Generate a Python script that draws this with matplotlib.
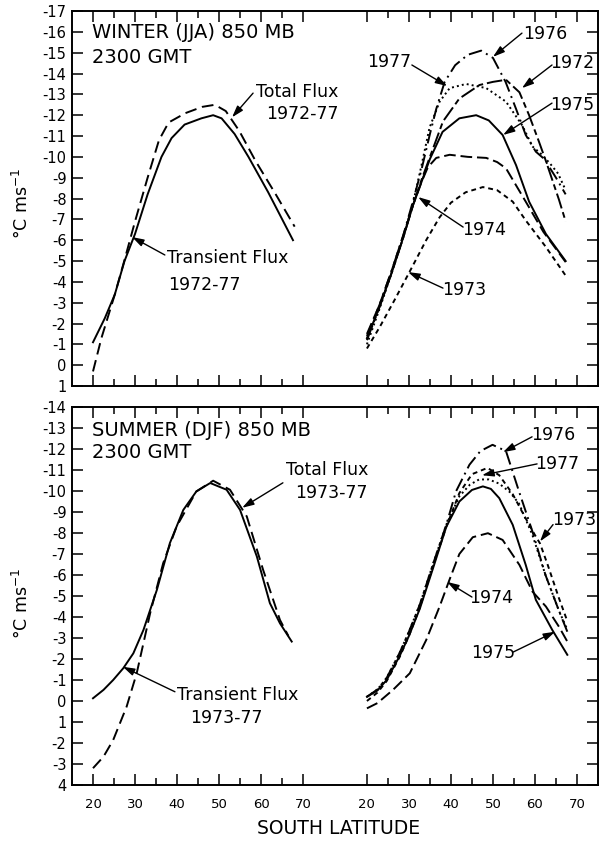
import matplotlib
matplotlib.use("Agg")
import matplotlib.pyplot as plt
import numpy as np

plt.rcParams['font.family'] = ['DejaVu Sans']

# ---- winter (JJA), left group: 1972-77 means
w_transient_lat = [20, 22.8, 25.2, 27.5, 30, 33, 36.3, 38.7, 41.8, 45.8, 48.6, 50.6, 53.7, 57, 61.7, 67.6]
w_transient = [-1.1, -2.25, -3.4, -5.0, -6.3, -8.2, -10.0, -10.9, -11.55, -11.85, -12.0, -11.85, -11.1, -10.0, -8.3, -6.0]
w_total_lat = [20, 22, 25.2, 27.5, 30, 33, 35.7, 38, 42, 46, 49, 51.6, 54.8, 58.7, 63.5, 68]
w_total = [0.3, -1.3, -3.4, -5.05, -6.9, -9.0, -10.8, -11.65, -12.1, -12.4, -12.5, -12.2, -11.25, -9.8, -8.2, -6.65]

# ---- winter (JJA), right group: single years
w1976_lat = [20, 23, 26, 28.6, 31, 33, 35, 36.5, 38.5, 41, 44, 47.2, 50, 53, 55.5, 57.8, 60.2, 62.2, 65, 67.3]
w1976 = [-1.4, -2.9, -4.6, -6.2, -7.9, -9.4, -11.1, -12.3, -13.6, -14.4, -14.9, -15.1, -14.75, -13.6, -12.3, -11.05, -10.25, -9.9, -9.0, -8.2]
w1977_lat = [20, 23, 26, 28.6, 31, 33, 34.9, 37.3, 39.7, 43.6, 48.4, 53.1, 57, 59.4, 61.4, 63.5, 65.5, 67.3]
w1977 = [-1.0, -2.7, -4.5, -6.1, -7.8, -9.6, -11.4, -12.65, -13.3, -13.5, -13.3, -12.65, -11.5, -10.5, -10.15, -9.7, -9.2, -8.4]
w1972_lat = [20, 23, 26, 28.6, 31, 33, 35, 38.1, 42, 46.8, 50, 53.1, 56.3, 58.6, 61, 62.6, 65.7, 67.3]
w1972 = [-1.2, -2.8, -4.5, -6.1, -7.7, -8.9, -10.0, -11.7, -12.8, -13.45, -13.6, -13.7, -13.1, -12.0, -10.7, -9.8, -7.95, -6.9]
w1975_lat = [20, 23, 26, 28.6, 31, 33, 35, 38, 42, 46, 49, 52.3, 55.5, 58.6, 62.6, 67.3]
w1975 = [-1.3, -2.8, -4.5, -6.1, -7.7, -8.8, -9.9, -11.2, -11.85, -12.0, -11.75, -11.05, -9.6, -7.85, -6.3, -5.0]
w1974_lat = [20, 23, 26, 28.6, 31, 33, 34.5, 36.5, 39.7, 44, 48.4, 51, 53.1, 57.8, 62, 67.3]
w1974 = [-1.5, -2.9, -4.6, -6.2, -7.7, -8.8, -9.5, -9.95, -10.1, -10.0, -9.95, -9.75, -9.45, -7.85, -6.4, -4.95]
w1973_lat = [20, 23.1, 26.5, 30.2, 34.1, 37.3, 40, 43.5, 47.6, 51, 54.7, 57.8, 62.5, 67.3]
w1973 = [-0.8, -1.85, -3.1, -4.5, -6.0, -7.1, -7.8, -8.3, -8.55, -8.4, -7.85, -6.95, -5.7, -4.3]

# ---- summer (DJF), left group: 1973-77 means
s_transient_lat = [20, 22.5, 24.8, 27.2, 29.6, 32, 35.2, 38.3, 41.5, 44.6, 47.9, 51.8, 55, 59, 62.1, 64.5, 67.3]
s_transient = [-0.13, -0.53, -1.0, -1.56, -2.27, -3.38, -5.29, -7.52, -9.1, -9.98, -10.38, -10.06, -9.1, -6.88, -4.66, -3.7, -2.83]
s_total_lat = [20, 22.5, 24.8, 28, 30.4, 33.6, 36.7, 39.9, 44.6, 48.6, 52.6, 56.6, 60.5, 64.5, 66.5]
s_total = [3.2, 2.65, 1.86, 0.27, -1.32, -4.18, -6.56, -8.31, -9.98, -10.49, -10.06, -8.79, -6.24, -3.86, -3.1]

# ---- summer (DJF), right group: single years
s1976_lat = [20, 22.5, 24.7, 27.8, 30, 32.6, 35.7, 38.9, 41.2, 44.4, 47, 49.9, 53.1, 56.2, 59.4, 62.5, 65.7, 67.7]
s1976 = [-0.2, -0.55, -1.1, -2.3, -3.3, -4.6, -6.5, -8.4, -9.98, -11.25, -11.9, -12.2, -11.9, -9.98, -8.07, -6.0, -4.3, -3.3]
s1977_lat = [20, 22.5, 24.7, 27.8, 30, 32.6, 35.7, 38.9, 42, 44.5, 46.7, 49, 51.5, 54, 56.2, 59.4, 62.5, 65.7, 67.7]
s1977 = [-0.2, -0.55, -1.1, -2.3, -3.3, -4.6, -6.5, -8.4, -9.75, -10.3, -10.55, -10.55, -10.35, -9.95, -9.4, -7.9, -6.0, -4.3, -3.4]
s1973_lat = [20, 22.5, 24.7, 27.8, 30, 32.6, 35.7, 38.9, 42, 45, 48.7, 51.5, 54.7, 57.5, 60, 61.2, 63, 65.7, 67.7]
s1973 = [0.0, -0.4, -0.95, -2.1, -3.1, -4.45, -6.4, -8.3, -9.9, -10.8, -11.1, -10.75, -9.85, -8.8, -7.9, -7.5, -6.5, -4.9, -3.8]
s1975_lat = [20, 22.5, 24.7, 27.8, 30, 32.6, 35.7, 38.9, 42, 45, 47.6, 49.5, 51.5, 54.7, 57.8, 60.2, 64.1, 67.7]
s1975 = [-0.2, -0.5, -1.0, -2.15, -3.1, -4.4, -6.3, -8.3, -9.5, -10.05, -10.22, -10.1, -9.66, -8.39, -6.48, -4.82, -3.39, -2.2]
s1974_lat = [20, 22.5, 26.2, 30.2, 34.1, 37.3, 39.7, 42, 45.2, 48.8, 52.3, 56.3, 59.4, 62.6, 65.7, 67.7]
s1974 = [0.35, 0.1, -0.53, -1.32, -2.9, -4.5, -5.8, -7.0, -7.8, -7.99, -7.67, -6.48, -5.21, -4.5, -3.54, -2.83]

# tick labels as printed
lat_ticks = [20, 30, 40, 50, 60, 70]
w_yticks = list(range(-17, 2))
w_ylabels = ['-17', '-16', '-15', '-14', '-13', '-12', '-11', '-10', '-9', '-8', '-7',
             '-6', '-5', '-4', '-3', '-2', '-1', '0', '1']
s_yticks = list(range(-14, 5))
s_ylabels = ['-14', '-13', '-12', '-11', '-10', '-9', '-8', '-7', '-6', '-5', '-4',
             '-3', '-2', '-1', '0', '1', '-2', '-3', '4']

SHIFT = 65.2  # right block of each panel is drawn 65.2 deg further along the axis
LW = 1.4
styles = {
    'solid': dict(ls='-'),
    'total': dict(ls=(0, (6, 3))),
    'dashdot': dict(ls=(0, (7, 2.5, 1, 2.5))),
    'dotted': dict(ls=(0, (1, 1.6))),
    'longshort': dict(ls=(0, (8, 2, 3, 2))),
    'longdash': dict(ls=(0, (6, 2.5))),
    'shortdash': dict(ls=(0, (2.5, 2))),
}

fig = plt.figure(figsize=(6.03, 8.43), dpi=100)
ax1 = fig.add_axes([0.1194, 0.5421, 0.8723, 0.4448])
ax2 = fig.add_axes([0.1194, 0.0688, 0.8723, 0.4484])


def frame(ax, yticks, ylabels, show_x):
    ax.set_xlim(15, 140.2)
    ax.set_ylim(yticks[-1], yticks[0])
    major = lat_ticks + [t + SHIFT for t in lat_ticks]
    minor = [t + 5 for t in lat_ticks[:-1]] + [t + 5 + SHIFT for t in lat_ticks[:-1]]
    ax.set_xticks(major)
    ax.set_xticks(minor, minor=True)
    ax.set_xticklabels([str(t) for t in lat_ticks] * 2 if show_x else [])
    ax.set_yticks(yticks)
    ax.set_yticklabels(ylabels)
    ax.tick_params(axis='both', which='both', direction='in', top=True, right=True,
                   width=1.1, color='black')
    ax.tick_params(axis='x', which='major', length=8, labelsize=9.5, pad=9)
    ax.tick_params(axis='x', which='minor', length=5)
    ax.tick_params(axis='y', length=8, labelsize=10.5, pad=4)
    for s in ax.spines.values():
        s.set_linewidth(1.4)


def arrow(ax, tail, head):
    ax.annotate('', xy=head, xytext=tail,
                arrowprops=dict(arrowstyle='-|>,head_length=0.7,head_width=0.22',
                                color='black', lw=1.0, shrinkA=0, shrinkB=0))


def curve(ax, lat, vals, style, shift=0.0):
    ax.plot(np.array(lat) + shift, vals, color='black', lw=LW, **styles[style])


# ------------------ winter panel
frame(ax1, w_yticks, w_ylabels, False)
curve(ax1, w_transient_lat, w_transient, 'solid')
curve(ax1, w_total_lat, w_total, 'total')
curve(ax1, w1976_lat, w1976, 'dashdot', SHIFT)
curve(ax1, w1977_lat, w1977, 'dotted', SHIFT)
curve(ax1, w1972_lat, w1972, 'longshort', SHIFT)
curve(ax1, w1975_lat, w1975, 'solid', SHIFT)
curve(ax1, w1974_lat, w1974, 'longdash', SHIFT)
curve(ax1, w1973_lat, w1973, 'shortdash', SHIFT)

tfs = 12.5
hfs = 14
ax1.text(19.8, -15.95, 'WINTER (JJA) 850 MB', fontsize=hfs, va='center', ha='left')
ax1.text(19.8, -14.75, '2300 GMT', fontsize=hfs, va='center', ha='left')

arrow(ax1, (58.1, -13.06), (53.1, -11.9))
ax1.text(58.9, -13.1, 'Total Flux', fontsize=tfs, va='center', ha='left')
ax1.text(61.2, -12.05, '1972-77', fontsize=tfs, va='center', ha='left')
arrow(ax1, (37.1, -5.29), (29.3, -6.15))
ax1.text(37.6, -5.15, 'Transient Flux', fontsize=tfs, va='center', ha='left')
ax1.text(37.9, -3.85, '1972-77', fontsize=tfs, va='center', ha='left')

arrow(ax1, (122.1, -15.94), (115.2, -14.8))
ax1.text(127.6, -15.9, '1976', fontsize=tfs, va='center', ha='center')
arrow(ax1, (95.9, -14.41), (104.3, -13.4))
ax1.text(90.4, -14.55, '1977', fontsize=tfs, va='center', ha='center')
arrow(ax1, (129.25, -14.41), (122.1, -13.3))
ax1.text(134.0, -14.5, '1972', fontsize=tfs, va='center', ha='center')
arrow(ax1, (129.25, -12.58), (117.6, -11.05))
ax1.text(134.0, -12.5, '1975', fontsize=tfs, va='center', ha='center')
arrow(ax1, (108.1, -6.63), (97.4, -8.07))
ax1.text(113.1, -6.5, '1974', fontsize=tfs, va='center', ha='center')
arrow(ax1, (103.3, -3.7), (95.0, -4.47))
ax1.text(108.3, -3.6, '1973', fontsize=tfs, va='center', ha='center')

# ------------------ summer panel
frame(ax2, s_yticks, s_ylabels, True)
curve(ax2, s_transient_lat, s_transient, 'solid')
curve(ax2, s_total_lat, s_total, 'total')
curve(ax2, s1976_lat, s1976, 'dashdot', SHIFT)
curve(ax2, s1977_lat, s1977, 'dotted', SHIFT)
curve(ax2, s1973_lat, s1973, 'shortdash', SHIFT)
curve(ax2, s1975_lat, s1975, 'solid', SHIFT)
curve(ax2, s1974_lat, s1974, 'longdash', SHIFT)

ax2.text(19.8, -12.9, 'SUMMER (DJF) 850 MB', fontsize=hfs, va='center', ha='left')
ax2.text(19.8, -11.85, '2300 GMT', fontsize=hfs, va='center', ha='left')

arrow(ax2, (65.2, -10.39), (55.5, -9.2))
ax2.text(66.0, -11.0, 'Total Flux', fontsize=tfs, va='center', ha='left')
ax2.text(68.2, -9.9, '1973-77', fontsize=tfs, va='center', ha='left')
arrow(ax2, (39.5, -0.44), (27.1, -1.63))
ax2.text(40.0, -0.3, 'Transient Flux', fontsize=tfs, va='center', ha='left')
ax2.text(43.2, 0.8, '1973-77', fontsize=tfs, va='center', ha='left')

arrow(ax2, (124.5, -12.58), (117.6, -11.85))
ax2.text(129.5, -12.65, '1976', fontsize=tfs, va='center', ha='center')
arrow(ax2, (125.7, -11.29), (112.6, -10.75))
ax2.text(130.5, -11.3, '1977', fontsize=tfs, va='center', ha='center')
arrow(ax2, (129.5, -8.4), (126.4, -7.6))
ax2.text(134.5, -8.6, '1973', fontsize=tfs, va='center', ha='center')
arrow(ax2, (110.2, -4.95), (104.3, -5.67))
ax2.text(114.7, -4.9, '1974', fontsize=tfs, va='center', ha='center')
arrow(ax2, (120.0, -2.33), (130.0, -3.3))
ax2.text(115.2, -2.28, '1975', fontsize=tfs, va='center', ha='center')

# axis titles
fig.text(22 / 603, 1 - 203 / 843, '°C ms$^{-1}$', rotation=90, fontsize=12.5,
         ha='center', va='center')
fig.text(22 / 603, 1 - 603 / 843, '°C ms$^{-1}$', rotation=90, fontsize=12.5,
         ha='center', va='center')
fig.text(339 / 603, 1 - 828 / 843, 'SOUTH LATITUDE', fontsize=13.5, ha='center', va='center')

fig.savefig('out.png', dpi=100, facecolor='white')
